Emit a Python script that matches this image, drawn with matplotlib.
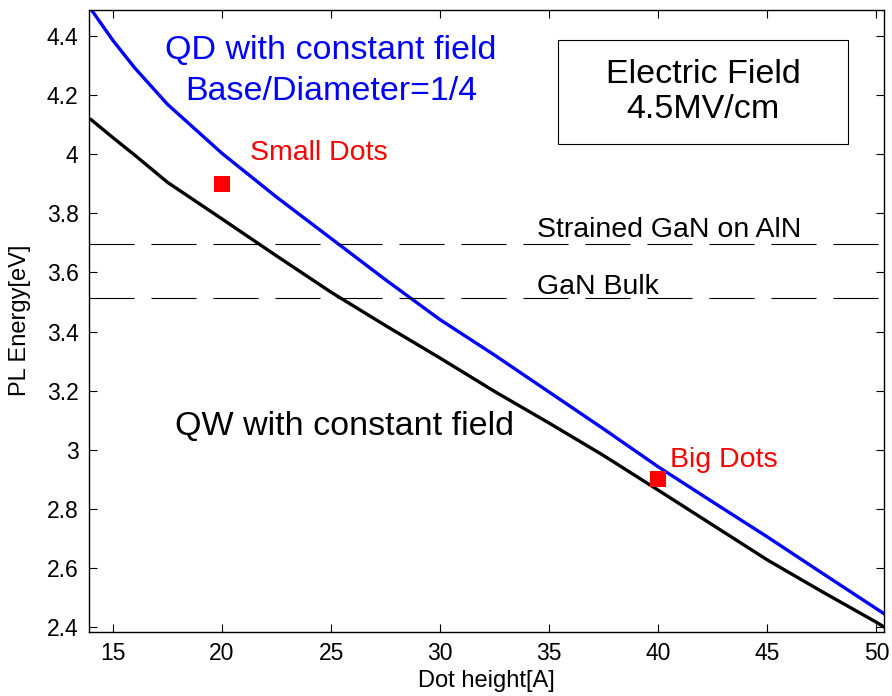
import matplotlib
matplotlib.use("Agg")
import matplotlib.pyplot as plt
from matplotlib.patches import Rectangle

plt.rcParams['font.family'] = ['Liberation Sans', 'DejaVu Sans']

# Data
dot_height = [14, 15, 16, 17.5, 20, 22.5, 25, 27.5, 30, 32.5, 35, 37.5, 40, 42.5, 45, 47.5, 50, 50.35]
qd_energy = [4.49, 4.385, 4.292, 4.169, 4.003, 3.855, 3.715, 3.575, 3.44, 3.32, 3.195, 3.07, 2.942, 2.823, 2.705, 2.583, 2.462, 2.445]
qw_energy = [4.117, 4.056, 3.997, 3.905, 3.781, 3.656, 3.533, 3.42, 3.31, 3.197, 3.09, 2.98, 2.863, 2.745, 2.627, 2.52, 2.416, 2.40]

dots_x = [20, 40]
dots_y = [3.9, 2.9]

strained_gan = 3.695
gan_bulk = 3.512

fig = plt.figure(figsize=(8.92, 6.96), dpi=100)
ax = fig.add_axes([89/892, 1-632/696, (884-89)/892, (632-9.5)/696])

ax.plot(dot_height, qd_energy, color='#0000ff', lw=2.4)
ax.plot(dot_height, qw_energy, color='black', lw=2.4)
ax.axhline(strained_gan, color='black', lw=0.8, dashes=(40.5, 15.3))
ax.axhline(gan_bulk, color='black', lw=0.8, dashes=(40.5, 15.3))
ax.plot(dots_x, dots_y, ls='none', marker='s', ms=11, color='#ff0000', mew=0)

ax.set_xlim(13.9, 50.35)
ax.set_ylim(2.383, 4.49)
ax.set_xticks([15, 20, 25, 30, 35, 40, 45, 50])
ax.set_yticks([2.4, 2.6, 2.8, 3.0, 3.2, 3.4, 3.6, 3.8, 4.0, 4.2, 4.4])
ax.set_yticklabels(['2.4', '2.6', '2.8', '3', '3.2', '3.4', '3.6', '3.8', '4', '4.2', '4.4'])
ax.tick_params(direction='in', length=6, width=0.8, labelsize=16.5, top=True, right=True)
ax.tick_params(axis='y', pad=7.5)
ax.tick_params(axis='x', pad=7)
for s in ax.spines.values():
    s.set_linewidth(1.0)

ax.set_xlabel('Dot height[A]', fontsize=17, labelpad=4)
ax.set_ylabel('PL Energy[eV]', fontsize=17, labelpad=11)

ax.text(25.0, 4.282, 'QD with constant field\nBase/Diameter=1/4', color='#0000ff',
        fontsize=24.5, ha='center', va='center', linespacing=1.42)
ax.text(21.27, 4.004, 'Small Dots', color='#ff0000', fontsize=20.5, ha='left', va='center')
ax.text(40.54, 2.966, 'Big Dots', color='#ff0000', fontsize=20.5, ha='left', va='center')
ax.text(17.84, 3.078, 'QW with constant field', color='black', fontsize=24.5, ha='left', va='center')
ax.text(34.44, 3.743, 'Strained GaN on AlN', color='black', fontsize=20.5, ha='left', va='center')
ax.text(34.44, 3.551, 'GaN Bulk', color='black', fontsize=20.5, ha='left', va='center')
ax.add_patch(Rectangle((35.40, 4.035), 48.70 - 35.40, 4.387 - 4.035, fc='white', ec='black', lw=0.8, zorder=3))
ax.text(42.05, 4.211, 'Electric Field\n4.5MV/cm', color='black', fontsize=24.5,
        ha='center', va='center', linespacing=1.18, zorder=4)

fig.savefig('out.png', dpi=100)
